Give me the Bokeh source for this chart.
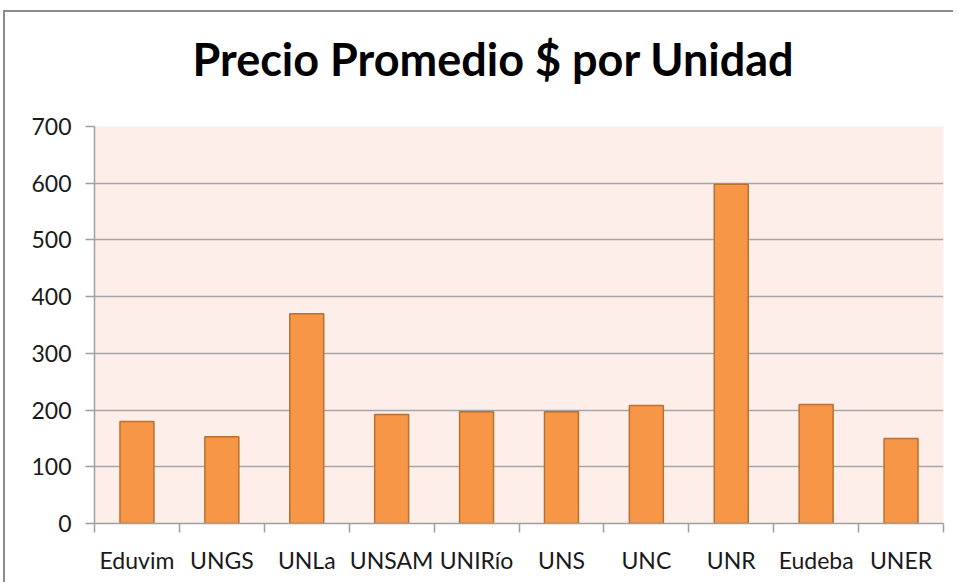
from bokeh.plotting import figure
from bokeh.models import Range1d, FixedTicker, ColumnDataSource, Title
from bokeh.embed import file_html
from bokeh.resources import INLINE

title_text = "Precio Promedio $ por Unidad"
categories = ["Eduvim", "UNGS", "UNLa", "UNSAM", "UNIRío", "UNS", "UNC", "UNR", "Eudeba", "UNER"]
values = [180, 153, 370, 192, 197, 197, 208, 598, 210, 150]
y_ticks = [0, 100, 200, 300, 400, 500, 600, 700]

centers = [i + 0.5 for i in range(len(categories))]
bounds = list(range(len(categories) + 1))

src = ColumnDataSource(dict(x=centers, top=values, cat=categories))

p = figure(width=950, height=572, output_backend="svg", toolbar_location=None,
           x_range=Range1d(0, len(categories)), y_range=Range1d(0, 700),
           min_border_left=89, min_border_right=12, min_border_top=114, min_border_bottom=61)

# spacer between title and plot area
p.add_layout(Title(text=" ", text_font_size="30px", standoff=6), "above")
p.add_layout(Title(text=title_text, text_font="Lato", text_font_style="bold",
                   text_font_size="45px", text_color="#000000", align="left",
                   offset=98, standoff=0), "above")

p.background_fill_color = "#fdeeea"
p.border_fill_color = "white"
p.outline_line_color = None
p.styles = {"border-left": "2px solid #8c8c8c", "border-top": "2px solid #8c8c8c",
            "margin-left": "3px", "margin-top": "10px"}

p.vbar(x="x", top="top", width=0.4, bottom=0, source=src,
       fill_color="#f79646", line_color="#b9712f", line_width=1.5)

# x axis
xa = p.xaxis[0]
xa.ticker = FixedTicker(ticks=centers, minor_ticks=bounds)
xa.major_label_overrides = {c: lab for c, lab in zip(centers, categories)}
xa.major_tick_line_color = None
xa.minor_tick_line_color = "#a0a0a0"
xa.minor_tick_line_width = 1.5
xa.minor_tick_in = 0
xa.minor_tick_out = 9
xa.axis_line_color = "#a0a0a0"
xa.axis_line_width = 1.5
xa.major_label_text_font = "Lato"
xa.major_label_text_font_size = "23px"
xa.major_label_text_color = "#1a1a1a"
xa.major_label_standoff = 13

# y axis
ya = p.yaxis[0]
ya.ticker = FixedTicker(ticks=y_ticks)
ya.minor_tick_line_color = None
ya.major_tick_line_color = "#a0a0a0"
ya.major_tick_line_width = 1.5
ya.major_tick_in = 0
ya.major_tick_out = 9
ya.axis_line_color = "#a0a0a0"
ya.axis_line_width = 1.5
ya.major_label_text_font = "Lato"
ya.major_label_text_font_size = "23px"
ya.major_label_text_color = "#1a1a1a"
ya.major_label_standoff = 14

p.xgrid.grid_line_color = None
p.ygrid.grid_line_color = "#a6a6a6"
p.ygrid.grid_line_width = 1.5

open("out.html", "w").write(file_html(p, INLINE))
